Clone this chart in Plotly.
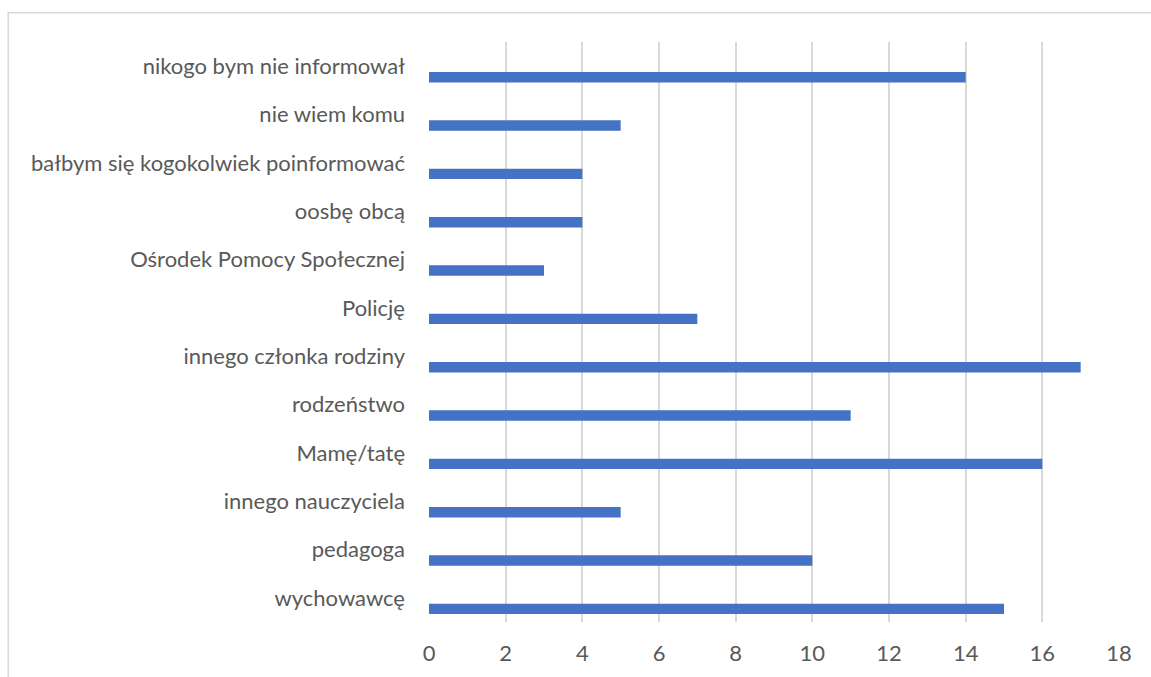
import plotly.graph_objects as go

categories = [
    "wychowawcę",
    "pedagoga",
    "innego nauczyciela",
    "Mamę/tatę",
    "rodzeństwo",
    "innego członka rodziny",
    "Policję",
    "Ośrodek Pomocy Społecznej",
    "oosbę obcą",
    "bałbym się kogokolwiek poinformować",
    "nie wiem komu",
    "nikogo bym nie informował",
]
values = [15, 10, 5, 16, 11, 17, 7, 3, 4, 4, 5, 14]
x_ticks = [0, 2, 4, 6, 8, 10, 12, 14, 16, 18]

W, H = 1151, 677
L, R, T, B = 429.3, W - 1119.3, 42, H - 622
pw, ph = W - L - R, H - T - B

fig = go.Figure(
    go.Bar(
        x=values,
        y=categories,
        orientation="h",
        marker=dict(color="#4472C4", line=dict(width=0)),
        width=0.217,
        offset=-0.337,
        hoverinfo="x+y",
    )
)

font_family = "Lato, 'Open Sans', sans-serif"
fs = 22
fig.update_layout(
    width=W,
    height=H,
    margin=dict(l=L, r=R, t=T, b=B, pad=0),
    paper_bgcolor="white",
    plot_bgcolor="white",
    showlegend=False,
    font=dict(family=font_family, size=fs, color="#595959"),
    xaxis=dict(
        range=[0, 18],
        tickvals=x_ticks,
        showgrid=True,
        gridcolor="#D9D9D9",
        gridwidth=1.5,
        zeroline=False,
        showline=False,
        ticks="",
        ticklabelstandoff=16,
        tickfont=dict(size=fs, color="#595959"),
        fixedrange=True,
    ),
    yaxis=dict(
        type="category",
        categoryorder="array",
        categoryarray=categories,
        range=[-0.5, len(categories) - 0.5],
        showgrid=False,
        zeroline=False,
        showline=False,
        ticks="",
        ticklabelstandoff=23,
        tickfont=dict(size=fs, color="#595959"),
        fixedrange=True,
    ),
    shapes=[
        dict(
            type="rect",
            xref="paper",
            yref="paper",
            x0=(8.5 - L) / pw,
            x1=(W + 20 - L) / pw,
            y0=-(B + 20) / ph,
            y1=(H - 12.7 - B) / ph,
            line=dict(color="#D9D9D9", width=1.5),
            fillcolor="rgba(0,0,0,0)",
            layer="below",
        )
    ],
)

fig.write_html(
    "out.html",
    config={"displayModeBar": False},
    post_script="document.body.style.margin='0';document.body.style.overflow='hidden';",
)
